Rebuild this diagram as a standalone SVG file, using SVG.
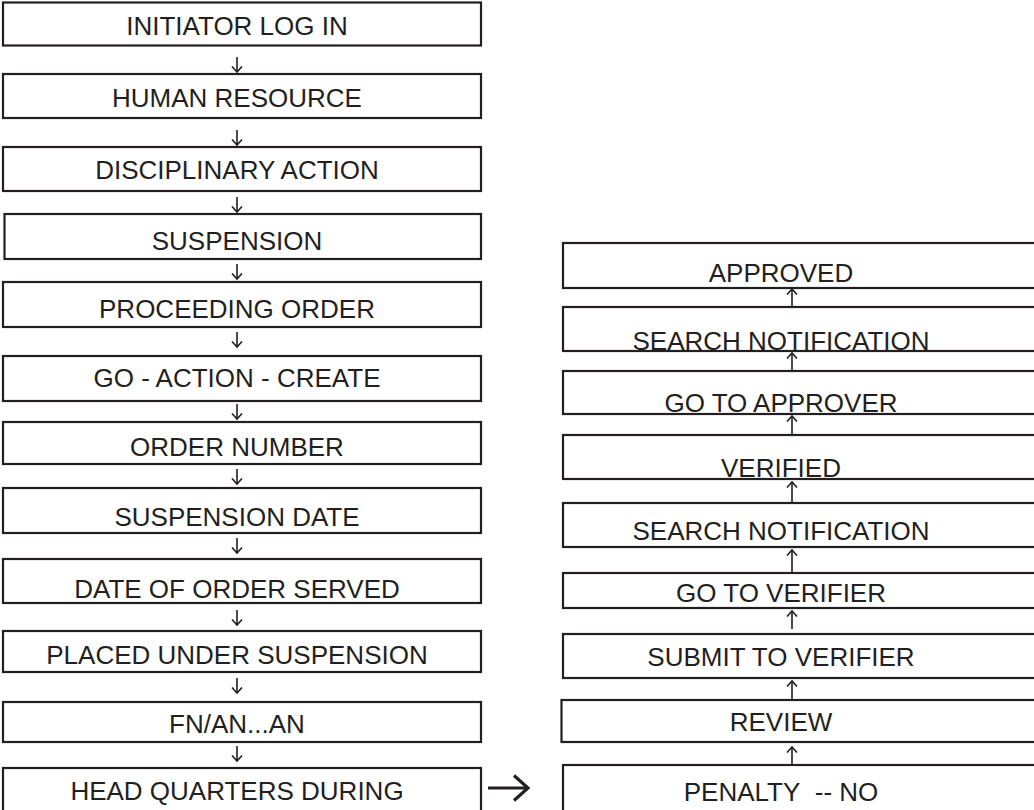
<svg xmlns="http://www.w3.org/2000/svg" width="1034" height="810" viewBox="0 0 1034 810">
<style>
.box{fill:#fff;stroke:#231f20;stroke-width:2.2}
.lbl{font-family:"Liberation Sans",Arial,sans-serif;font-size:26px;fill:#231f20;text-anchor:middle}
.arr{stroke:#231f20;stroke-width:1.6;fill:none}
.big{stroke:#231f20;stroke-width:3;fill:none}
</style>
<defs>
<marker id="head" markerUnits="userSpaceOnUse" markerWidth="12" markerHeight="12" refX="6" refY="6" orient="auto">
<path d="M0.5,1 L6,6 L0.5,11" stroke="#231f20" stroke-width="1.6" fill="none"/>
</marker>
<marker id="bighead" markerUnits="userSpaceOnUse" markerWidth="20" markerHeight="30" refX="16" refY="15" orient="auto">
<path d="M2,2.5 L16,15 L2,27.5" stroke="#231f20" stroke-width="3.2" fill="none"/>
</marker>
</defs>
<rect width="1034" height="810" fill="#fff"/>
<g id="n1"><rect class="box" x="3" y="2.5" width="478" height="43"/><text class="lbl" x="237" y="35">INITIATOR LOG IN</text></g>
<g id="n2"><rect class="box" x="3" y="74" width="478" height="44"/><text class="lbl" x="237" y="107">HUMAN RESOURCE</text></g>
<g id="n3"><rect class="box" x="3" y="147" width="478" height="44"/><text class="lbl" x="237" y="179">DISCIPLINARY ACTION</text></g>
<g id="n4"><rect class="box" x="4.5" y="214" width="476.5" height="45"/><text class="lbl" x="237" y="250">SUSPENSION</text></g>
<g id="n5"><rect class="box" x="3" y="282" width="478" height="45"/><text class="lbl" x="237" y="318">PROCEEDING ORDER</text></g>
<g id="n6"><rect class="box" x="3" y="356" width="478" height="45"/><text class="lbl" x="237" y="387">GO - ACTION - CREATE</text></g>
<g id="n7"><rect class="box" x="3" y="422" width="478" height="42"/><text class="lbl" x="237" y="456">ORDER NUMBER</text></g>
<g id="n8"><rect class="box" x="3" y="488" width="478" height="45"/><text class="lbl" x="237" y="526">SUSPENSION DATE</text></g>
<g id="n9"><rect class="box" x="3" y="559" width="478" height="44"/><text class="lbl" x="237" y="598">DATE OF ORDER SERVED</text></g>
<g id="n10"><rect class="box" x="3" y="631" width="478" height="41"/><text class="lbl" x="237" y="664">PLACED UNDER SUSPENSION</text></g>
<g id="n11"><rect class="box" x="3" y="702" width="478" height="40"/><text class="lbl" x="237" y="733">FN/AN...AN</text></g>
<g id="n12"><rect class="box" x="3" y="768" width="478" height="46"/><text class="lbl" x="237" y="800">HEAD QUARTERS DURING</text></g>
<g id="r1"><rect class="box" x="563" y="243" width="480" height="45"/><text class="lbl" x="781" y="282">APPROVED</text></g>
<g id="r2"><rect class="box" x="563" y="307" width="480" height="44"/><text class="lbl" x="781" y="350">SEARCH NOTIFICATION</text></g>
<g id="r3"><rect class="box" x="563" y="371" width="480" height="43"/><text class="lbl" x="781" y="412">GO TO APPROVER</text></g>
<g id="r4"><rect class="box" x="563" y="435" width="480" height="44"/><text class="lbl" x="781" y="477">VERIFIED</text></g>
<g id="r5"><rect class="box" x="563" y="503" width="480" height="44"/><text class="lbl" x="781" y="540">SEARCH NOTIFICATION</text></g>
<g id="r6"><rect class="box" x="563" y="573" width="480" height="35"/><text class="lbl" x="781" y="602">GO TO VERIFIER</text></g>
<g id="r7"><rect class="box" x="563" y="634" width="480" height="44"/><text class="lbl" x="781" y="666">SUBMIT TO VERIFIER</text></g>
<g id="r8"><rect class="box" x="561.5" y="700" width="481.5" height="42"/><text class="lbl" x="781" y="731">REVIEW</text></g>
<g id="r9"><rect class="box" x="563" y="765" width="480" height="50"/><text class="lbl" x="781" y="801">PENALTY&#160; -- NO</text></g>
<g id="connectors">
<line class="arr" x1="237" y1="57" x2="237" y2="72" marker-end="url(#head)"/>
<line class="arr" x1="237" y1="130" x2="237" y2="145" marker-end="url(#head)"/>
<line class="arr" x1="237" y1="197" x2="237" y2="212" marker-end="url(#head)"/>
<line class="arr" x1="237" y1="264" x2="237" y2="279" marker-end="url(#head)"/>
<line class="arr" x1="237" y1="332" x2="237" y2="347" marker-end="url(#head)"/>
<line class="arr" x1="237" y1="404" x2="237" y2="419" marker-end="url(#head)"/>
<line class="arr" x1="237" y1="469" x2="237" y2="484" marker-end="url(#head)"/>
<line class="arr" x1="237" y1="538" x2="237" y2="553" marker-end="url(#head)"/>
<line class="arr" x1="237" y1="610" x2="237" y2="625" marker-end="url(#head)"/>
<line class="arr" x1="237" y1="678" x2="237" y2="693" marker-end="url(#head)"/>
<line class="arr" x1="237" y1="746" x2="237" y2="761" marker-end="url(#head)"/>
<line class="arr" x1="792" y1="306" x2="792" y2="289" marker-end="url(#head)"/>
<line class="arr" x1="792" y1="370" x2="792" y2="353" marker-end="url(#head)"/>
<line class="arr" x1="792" y1="434" x2="792" y2="416" marker-end="url(#head)"/>
<line class="arr" x1="792" y1="502" x2="792" y2="482" marker-end="url(#head)"/>
<line class="arr" x1="792" y1="572" x2="792" y2="550" marker-end="url(#head)"/>
<line class="arr" x1="792" y1="629" x2="792" y2="611" marker-end="url(#head)"/>
<line class="arr" x1="792" y1="699" x2="792" y2="681" marker-end="url(#head)"/>
<line class="arr" x1="792" y1="764" x2="792" y2="747" marker-end="url(#head)"/>
<line class="big" x1="488" y1="788" x2="528" y2="788" marker-end="url(#bighead)"/>
</g>
</svg>
